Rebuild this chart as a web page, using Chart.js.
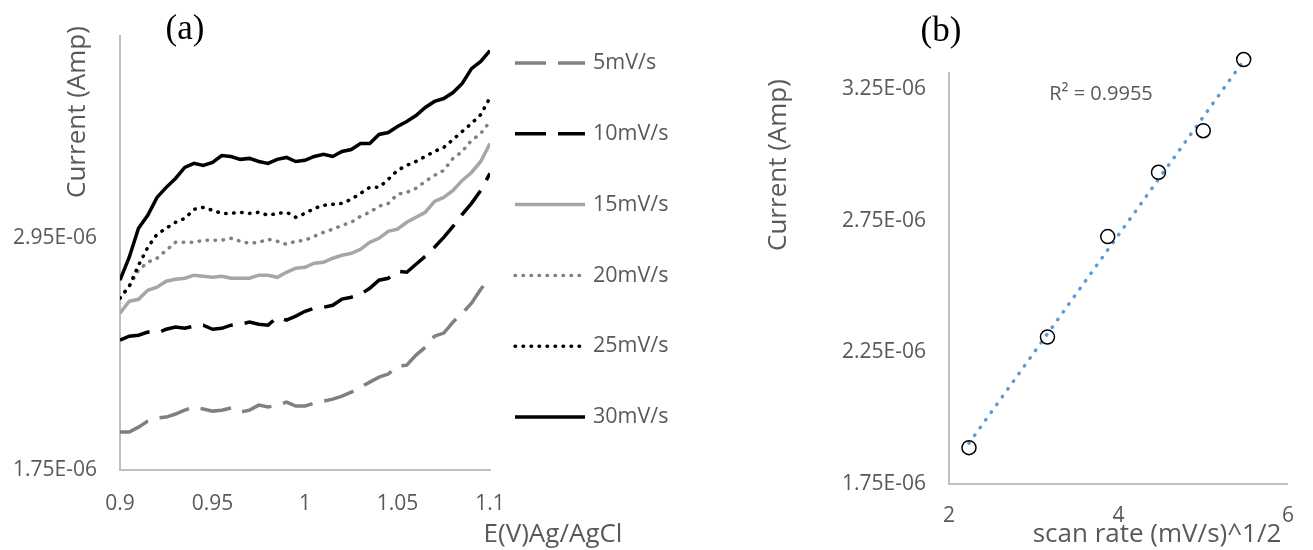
<!DOCTYPE html>
<html>
<head>
<meta charset="utf-8">
<title>Scan rate study</title>
<script src="https://cdn.jsdelivr.net/npm/chart.js@4.4.1/dist/chart.umd.min.js"></script>
<style>
  html, body { margin: 0; padding: 0; background: #fff; }
  #wrap { position: relative; width: 1313px; height: 550px; overflow: hidden; }
  #chart_a { position: absolute; left: 0; top: 0; }
  #chart_b { position: absolute; left: 700px; top: 0; }
</style>
</head>
<body>
<div id="wrap">
  <canvas id="chart_a" width="700" height="550"></canvas>
  <canvas id="chart_b" width="613" height="550"></canvas>
</div>
<script>
/**
 * (a) current vs potential, one curve per scan rate
 */
var potential = [0.9, 0.905, 0.91, 0.915, 0.92, 0.925, 0.93, 0.935, 0.94, 0.945,
  0.95, 0.955, 0.96, 0.965, 0.97, 0.975, 0.98, 0.985, 0.99, 0.995,
  1.0, 1.005, 1.01, 1.015, 1.02, 1.025, 1.03, 1.035, 1.04, 1.045,
  1.05, 1.055, 1.06, 1.065, 1.07, 1.075, 1.08, 1.085, 1.09, 1.095, 1.1];

var scanLabels = ['5mV/s', '10mV/s', '15mV/s', '20mV/s', '25mV/s', '30mV/s'];

var cur5 = [1.947e-6, 1.947e-6, 1.972e-6, 2.003e-6, 2.019e-6, 2.024e-6, 2.040e-6, 2.060e-6, 2.076e-6, 2.066e-6,
  2.055e-6, 2.060e-6, 2.071e-6, 2.050e-6, 2.060e-6, 2.086e-6, 2.076e-6, 2.086e-6, 2.102e-6, 2.081e-6,
  2.081e-6, 2.097e-6, 2.107e-6, 2.117e-6, 2.133e-6, 2.153e-6, 2.179e-6, 2.205e-6, 2.231e-6, 2.247e-6,
  2.288e-6, 2.293e-6, 2.345e-6, 2.386e-6, 2.443e-6, 2.459e-6, 2.516e-6, 2.562e-6, 2.614e-6, 2.686e-6, 2.748e-6];
var cur10 = [2.422e-6, 2.443e-6, 2.448e-6, 2.464e-6, 2.459e-6, 2.479e-6, 2.490e-6, 2.484e-6, 2.495e-6, 2.500e-6,
  2.479e-6, 2.484e-6, 2.500e-6, 2.505e-6, 2.516e-6, 2.505e-6, 2.500e-6, 2.541e-6, 2.526e-6, 2.547e-6,
  2.572e-6, 2.588e-6, 2.593e-6, 2.603e-6, 2.635e-6, 2.645e-6, 2.660e-6, 2.691e-6, 2.733e-6, 2.743e-6,
  2.779e-6, 2.774e-6, 2.816e-6, 2.857e-6, 2.904e-6, 2.955e-6, 3.012e-6, 3.074e-6, 3.131e-6, 3.198e-6, 3.286e-6];
var cur15 = [2.562e-6, 2.624e-6, 2.634e-6, 2.681e-6, 2.697e-6, 2.728e-6, 2.738e-6, 2.743e-6, 2.759e-6, 2.753e-6,
  2.748e-6, 2.753e-6, 2.743e-6, 2.743e-6, 2.743e-6, 2.759e-6, 2.759e-6, 2.748e-6, 2.774e-6, 2.795e-6,
  2.800e-6, 2.821e-6, 2.826e-6, 2.847e-6, 2.862e-6, 2.872e-6, 2.893e-6, 2.929e-6, 2.950e-6, 2.986e-6,
  2.997e-6, 3.033e-6, 3.059e-6, 3.085e-6, 3.141e-6, 3.162e-6, 3.198e-6, 3.250e-6, 3.291e-6, 3.348e-6, 3.441e-6];
var cur20 = [2.640e-6, 2.702e-6, 2.785e-6, 2.826e-6, 2.847e-6, 2.888e-6, 2.929e-6, 2.929e-6, 2.929e-6, 2.940e-6,
  2.940e-6, 2.940e-6, 2.950e-6, 2.935e-6, 2.924e-6, 2.929e-6, 2.945e-6, 2.935e-6, 2.919e-6, 2.935e-6,
  2.940e-6, 2.960e-6, 2.981e-6, 2.997e-6, 3.017e-6, 3.033e-6, 3.064e-6, 3.085e-6, 3.116e-6, 3.131e-6,
  3.178e-6, 3.188e-6, 3.209e-6, 3.245e-6, 3.276e-6, 3.302e-6, 3.364e-6, 3.400e-6, 3.457e-6, 3.493e-6, 3.555e-6];
var cur25 = [2.640e-6, 2.702e-6, 2.810e-6, 2.903e-6, 2.971e-6, 3.002e-6, 3.033e-6, 3.053e-6, 3.100e-6, 3.110e-6,
  3.095e-6, 3.079e-6, 3.079e-6, 3.085e-6, 3.079e-6, 3.085e-6, 3.069e-6, 3.079e-6, 3.085e-6, 3.059e-6,
  3.079e-6, 3.105e-6, 3.121e-6, 3.126e-6, 3.131e-6, 3.152e-6, 3.183e-6, 3.214e-6, 3.214e-6, 3.255e-6,
  3.302e-6, 3.328e-6, 3.348e-6, 3.374e-6, 3.400e-6, 3.421e-6, 3.462e-6, 3.504e-6, 3.545e-6, 3.591e-6, 3.679e-6];
var cur30 = [2.733e-6, 2.852e-6, 3.002e-6, 3.069e-6, 3.162e-6, 3.214e-6, 3.260e-6, 3.317e-6, 3.338e-6, 3.328e-6,
  3.343e-6, 3.379e-6, 3.374e-6, 3.359e-6, 3.364e-6, 3.348e-6, 3.338e-6, 3.359e-6, 3.369e-6, 3.348e-6,
  3.354e-6, 3.374e-6, 3.385e-6, 3.374e-6, 3.400e-6, 3.410e-6, 3.441e-6, 3.441e-6, 3.488e-6, 3.498e-6,
  3.529e-6, 3.555e-6, 3.586e-6, 3.628e-6, 3.659e-6, 3.674e-6, 3.705e-6, 3.752e-6, 3.829e-6, 3.866e-6, 3.922e-6];

var xTicksA = [0.9, 0.95, 1, 1.05, 1.1];
var xTickLabelsA = ['0.9', '0.95', '1', '1.05', '1.1'];
var yTicksA = [1.75e-6, 2.95e-6];
var yTickLabelsA = ['1.75E-06', '2.95E-06'];

/**
 * (b) peak current vs square root of scan rate
 */
var sqrtRate = [2.236, 3.162, 3.873, 4.472, 5.0, 5.477];
var peakCurrent = [1.888e-6, 2.308e-6, 2.689e-6, 2.933e-6, 3.091e-6, 3.361e-6];

var xTicksB = [2, 4, 6];
var xTickLabelsB = ['2', '4', '6'];
var yTicksB = [1.75e-6, 2.25e-6, 2.75e-6, 3.25e-6];
var yTickLabelsB = ['1.75E-06', '2.25E-06', '2.75E-06', '3.25E-06'];

var GREY_TEXT = '#595959';
var AXIS_LINE = '#bfbfbf';
var SANS = "'Open Sans', sans-serif";
var TICK_SIZE = 21;

Chart.defaults.font.family = SANS;
Chart.defaults.color = GREY_TEXT;

// free texts and a side legend, drawn on top of the chart
var overlayPlugin = {
  id: 'overlay',
  // the last (b) marker sits above the axis top, so let the markers overflow a bit
  beforeDatasetsDraw: function(chart, args, opts) {
    if (opts.overflowTop) chart.chartArea.top -= opts.overflowTop;
  },
  afterDatasetsDraw: function(chart, args, opts) {
    if (opts.overflowTop) chart.chartArea.top += opts.overflowTop;
  },
  afterDraw: function(chart, args, opts) {
    var ctx = chart.ctx;
    (opts.texts || []).forEach(function(t) {
      ctx.save();
      ctx.font = t.font;
      ctx.fillStyle = t.color || GREY_TEXT;
      ctx.textAlign = 'center';
      ctx.textBaseline = 'middle';
      ctx.translate(t.x, t.y);
      if (t.rotate) ctx.rotate(t.rotate);
      ctx.fillText(t.text, 0, 0);
      ctx.restore();
    });

    var lg = opts.legend;
    if (!lg) return;
    chart.data.datasets.forEach(function(ds, i) {
      var y = lg.top + i * lg.step;
      ctx.save();
      ctx.strokeStyle = ds.borderColor;
      ctx.lineWidth = ds.borderWidth;
      ctx.lineCap = ds.borderCapStyle || 'butt';
      ctx.setLineDash(ds.borderDash || []);
      ctx.beginPath();
      ctx.moveTo(lg.left, y);
      ctx.lineTo(lg.left + lg.length, y);
      ctx.stroke();
      ctx.setLineDash([]);
      ctx.font = lg.font;
      ctx.fillStyle = GREY_TEXT;
      ctx.textAlign = 'left';
      ctx.textBaseline = 'middle';
      ctx.fillText(ds.label, lg.left + lg.length + lg.gap, y);
      ctx.restore();
    });
  }
};

function points(xs, ys) {
  return xs.map(function(x, i) { return {x: x, y: ys[i]}; });
}

function curve(label, values, color, dash, cap, order) {
  return {
    label: label,
    data: points(potential, values),
    borderColor: color,
    borderWidth: 3.5,
    borderDash: dash,
    borderCapStyle: cap,
    pointRadius: 0,
    tension: 0,
    fill: false,
    order: order
  };
}

function fixedTicks(values) {
  return function(scale) {
    scale.ticks = values.map(function(v) { return {value: v}; });
  };
}

var LONG_DASH = [31, 12];
var ROUND_DOT = [0.5, 7.5];

new Chart(document.getElementById('chart_a').getContext('2d'), {
  type: 'line',
  data: {
    datasets: [
      curve(scanLabels[0], cur5, '#808080', LONG_DASH, 'butt', 5),
      curve(scanLabels[1], cur10, '#000000', LONG_DASH, 'butt', 4),
      curve(scanLabels[2], cur15, '#a6a6a6', [], 'butt', 3),
      curve(scanLabels[3], cur20, '#808080', ROUND_DOT, 'round', 2),
      curve(scanLabels[4], cur25, '#000000', ROUND_DOT, 'round', 1),
      curve(scanLabels[5], cur30, '#000000', [], 'butt', 0)
    ]
  },
  options: {
    responsive: false,
    animation: false,
    layout: { padding: { left: 0, top: 35, right: 210, bottom: 0 } },
    plugins: {
      legend: { display: false },
      tooltip: { enabled: false },
      overlay: {
        texts: [
          { text: '(a)', x: 185, y: 30, font: "35px 'Liberation Serif'", color: '#000000' },
          { text: 'Current (Amp)', x: 78, y: 112, rotate: -Math.PI / 2, font: '26px ' + SANS },
          { text: 'E(V)Ag/AgCl', x: 553, y: 535, font: '26px ' + SANS }
        ],
        legend: { left: 515, top: 63, step: 70.8, length: 70, gap: 8, font: '21.5px ' + SANS }
      }
    },
    scales: {
      x: {
        type: 'linear',
        min: 0.9,
        max: 1.1,
        afterBuildTicks: fixedTicks(xTicksA),
        afterFit: function(scale) { scale.height = 80; },
        grid: { display: false, drawTicks: false },
        border: { color: AXIS_LINE, width: 2 },
        ticks: {
          padding: 21,
          maxRotation: 0,
          autoSkip: false,
          font: { size: TICK_SIZE },
          callback: function(v, i) { return xTickLabelsA[i]; }
        }
      },
      y: {
        min: 1.75e-6,
        max: 4.0e-6,
        afterBuildTicks: fixedTicks(yTicksA),
        afterFit: function(scale) { scale.width = 120; },
        grid: { display: false, drawTicks: false },
        border: { color: AXIS_LINE, width: 2 },
        ticks: {
          padding: 23,
          autoSkip: false,
          font: { size: TICK_SIZE },
          callback: function(v, i) { return yTickLabelsA[i]; }
        }
      }
    }
  },
  plugins: [overlayPlugin]
});

// linear trendline through the (b) points, least squares
function linearFit(xs, ys) {
  var n = xs.length, mx = 0, my = 0, sxy = 0, sxx = 0;
  for (var i = 0; i < n; i++) { mx += xs[i] / n; my += ys[i] / n; }
  for (var j = 0; j < n; j++) {
    sxy += (xs[j] - mx) * (ys[j] - my);
    sxx += (xs[j] - mx) * (xs[j] - mx);
  }
  var slope = sxy / sxx;
  return function(x) { return my + slope * (x - mx); };
}

var fit = linearFit(sqrtRate, peakCurrent);
var xFirst = sqrtRate[0];
var xLast = sqrtRate[sqrtRate.length - 1];

new Chart(document.getElementById('chart_b').getContext('2d'), {
  type: 'scatter',
  data: {
    datasets: [
      {
        label: 'peak current',
        data: points(sqrtRate, peakCurrent),
        pointStyle: 'circle',
        pointRadius: 7,
        pointBorderWidth: 1.5,
        pointBorderColor: '#000000',
        pointBackgroundColor: 'rgba(0,0,0,0)',
        clip: false,
        order: 0
      },
      {
        type: 'line',
        label: 'Linear fit',
        data: [{x: xFirst, y: fit(xFirst)}, {x: xLast, y: fit(xLast)}],
        borderColor: '#5b9bd5',
        borderWidth: 3.5,
        borderDash: [0.5, 9],
        borderCapStyle: 'round',
        pointRadius: 0,
        clip: false,
        order: 1
      }
    ]
  },
  options: {
    responsive: false,
    animation: false,
    layout: { padding: { left: 0, top: 73, right: 10, bottom: 0 } },
    plugins: {
      legend: { display: false },
      tooltip: { enabled: false },
      overlay: {
        overflowTop: 30,
        texts: [
          { text: '(b)', x: 241, y: 32, font: "35px 'Liberation Serif'", color: '#000000' },
          { text: 'Current (Amp)', x: 79, y: 165, rotate: -Math.PI / 2, font: '26px ' + SANS },
          { text: 'scan rate (mV/s)^1/2', x: 457, y: 535, font: '26px ' + SANS },
          { text: 'R\u00b2 = 0.9955', x: 401, y: 94, font: '20px ' + SANS }
        ]
      }
    },
    scales: {
      x: {
        type: 'linear',
        min: 2,
        max: 6,
        afterBuildTicks: fixedTicks(xTicksB),
        afterFit: function(scale) { scale.height = 66; },
        grid: { display: false, drawTicks: false },
        border: { color: AXIS_LINE, width: 2 },
        ticks: {
          padding: 19,
          maxRotation: 0,
          autoSkip: false,
          font: { size: TICK_SIZE },
          callback: function(v, i) { return xTickLabelsB[i]; }
        }
      },
      y: {
        min: 1.75e-6,
        max: 3.31e-6,
        afterBuildTicks: fixedTicks(yTicksB),
        afterFit: function(scale) { scale.width = 249; },
        grid: { display: false, drawTicks: false },
        border: { color: AXIS_LINE, width: 2 },
        ticks: {
          padding: 23,
          autoSkip: false,
          font: { size: TICK_SIZE },
          callback: function(v, i) { return yTickLabelsB[i]; }
        }
      }
    }
  },
  plugins: [overlayPlugin]
});
</script>
</body>
</html>
